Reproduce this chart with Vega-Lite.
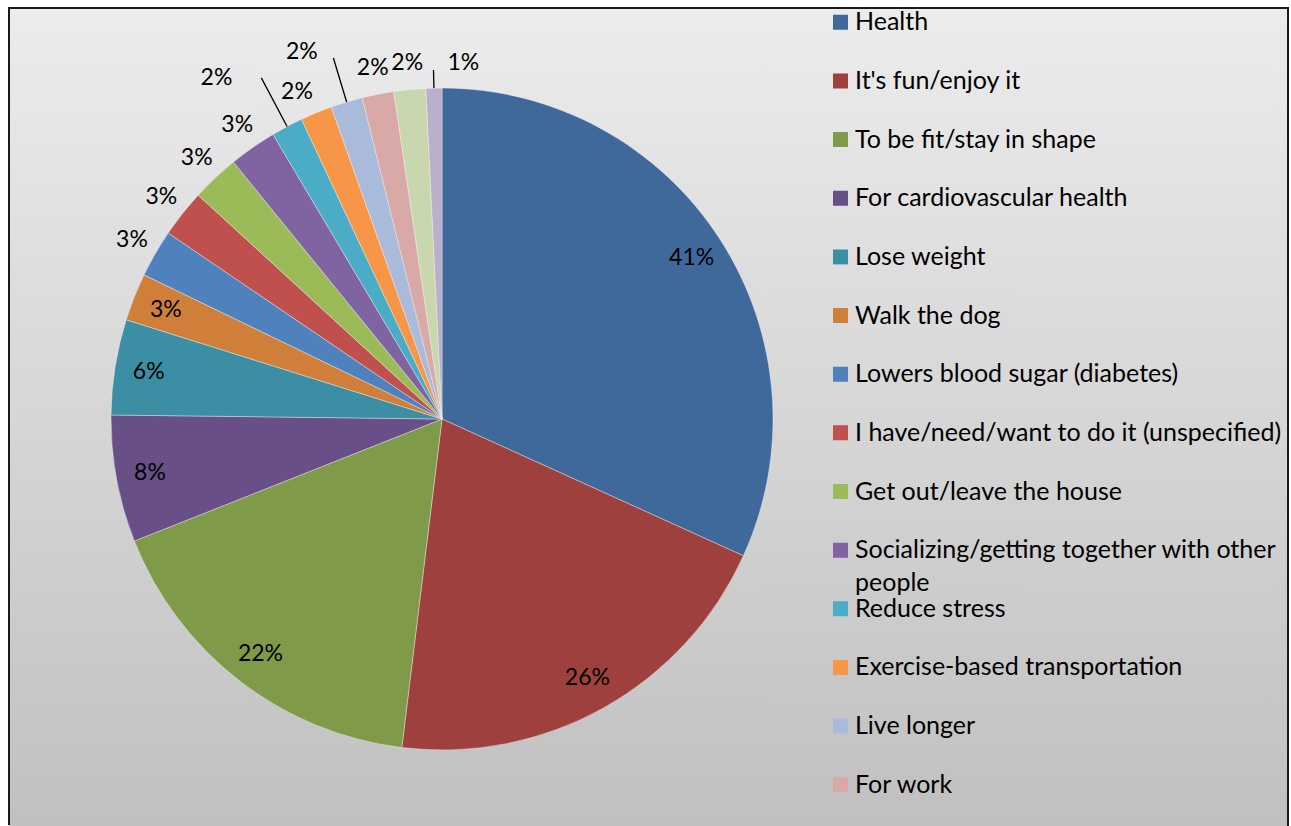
{
  "$schema": "https://vega.github.io/schema/vega-lite/v6.json",
  "width": 1279,
  "height": 818,
  "autosize": {"type": "none"},
  "padding": {"left": 9, "top": 8, "right": 3, "bottom": 0},
  "background": "#ffffff",
  "view": {
    "fill": {"gradient": "linear", "x1": 0, "y1": 0, "x2": 0, "y2": 1,
      "stops": [{"offset": 0, "color": "#ececec"}, {"offset": 1, "color": "#c0c0c0"}]},
    "stroke": "#1a1a1a",
    "strokeWidth": 2,
    "strokeDash": [2098, 1279, 830]
  },
  "config": {
    "style": {"guide-label": {"lineHeight": 33}}
  },
  "data": {
    "values": [
      {"category": "Health", "pct": 0.41},
      {"category": "It's fun/enjoy it", "pct": 0.26},
      {"category": "To be fit/stay in shape", "pct": 0.22},
      {"category": "For cardiovascular health", "pct": 0.08},
      {"category": "Lose weight", "pct": 0.06},
      {"category": "Walk the dog", "pct": 0.03},
      {"category": "Lowers blood sugar (diabetes)", "pct": 0.03},
      {"category": "I have/need/want to do it (unspecified)", "pct": 0.03},
      {"category": "Get out/leave the house", "pct": 0.03},
      {"category": "Socializing/getting together with other people", "pct": 0.03},
      {"category": "Reduce stress", "pct": 0.02},
      {"category": "Exercise-based transportation", "pct": 0.02},
      {"category": "Live longer", "pct": 0.02},
      {"category": "For work", "pct": 0.02},
      {"category": "Relaxation", "pct": 0.02},
      {"category": "Other", "pct": 0.01}
    ]
  },
  "transform": [{"window": [{"op": "row_number", "as": "idx"}]}],
  "layer": [
    {
      "mark": {"type": "arc", "outerRadius": 331, "x": 433, "y": 411, "stroke": "#f4f4f4", "strokeWidth": 0.4},
      "encoding": {
        "theta": {"field": "pct", "type": "quantitative", "stack": true},
        "order": {"field": "idx", "type": "quantitative"},
        "color": {
          "field": "category", "type": "nominal", "sort": null,
          "scale": {
            "domain": ["Health", "It's fun/enjoy it", "To be fit/stay in shape", "For cardiovascular health", "Lose weight", "Walk the dog", "Lowers blood sugar (diabetes)", "I have/need/want to do it (unspecified)", "Get out/leave the house", "Socializing/getting together with other people", "Reduce stress", "Exercise-based transportation", "Live longer", "For work", "Relaxation", "Other"],
            "range": ["#40699b", "#9e413e", "#7f9a48", "#694f87", "#3b8ea3", "#d07f3b", "#4f81bd", "#c0504d", "#9bbb59", "#8064a2", "#4bacc6", "#f79646", "#aabada", "#d9a9a8", "#c8d7ad", "#bab0cb"]
          },
          "legend": {
            "title": null,
            "orient": "none",
            "legendX": 819,
            "legendY": 2.3,
            "padding": 0,
            "symbolType": "square",
            "symbolSize": 225,
            "symbolStrokeWidth": 0,
            "symbolOpacity": 1,
            "labelFont": "Lato",
            "labelFontSize": 25,
            "labelColor": "#000000",
            "labelOffset": 2,
            "labelLimit": 0,
            "clipHeight": 24,
            "rowPadding": 0.65,
            "labelExpr": "datum.label == 'Socializing/getting together with other people' ? ['Socializing/getting together with other', 'people'] : [datum.label, ' ']"
          }
        }
      }
    },
    {
      "mark": {"type": "arc", "innerRadius": 331, "outerRadius": 386, "padAngle": 0.2, "x": 433, "y": 411, "filled": false, "stroke": "#000000", "strokeWidth": 1.3},
      "encoding": {
        "theta": {"field": "pct", "type": "quantitative", "stack": true},
        "order": {"field": "idx", "type": "quantitative"},
        "detail": {"field": "category", "type": "nominal"},
        "strokeOpacity": {"condition": {"test": "datum.idx == 11", "value": 1}, "value": 0}
      }
    },
    {
      "mark": {"type": "arc", "innerRadius": 331, "outerRadius": 377, "padAngle": 0.2, "x": 433, "y": 411, "filled": false, "stroke": "#000000", "strokeWidth": 1.3},
      "encoding": {
        "theta": {"field": "pct", "type": "quantitative", "stack": true},
        "order": {"field": "idx", "type": "quantitative"},
        "detail": {"field": "category", "type": "nominal"},
        "strokeOpacity": {"condition": {"test": "datum.idx == 13", "value": 1}, "value": 0}
      }
    },
    {
      "mark": {"type": "arc", "innerRadius": 331, "outerRadius": 349, "padAngle": 0.2, "x": 433, "y": 411, "filled": false, "stroke": "#000000", "strokeWidth": 1.3},
      "encoding": {
        "theta": {"field": "pct", "type": "quantitative", "stack": true},
        "order": {"field": "idx", "type": "quantitative"},
        "detail": {"field": "category", "type": "nominal"},
        "strokeOpacity": {"condition": {"test": "datum.idx == 16", "value": 1}, "value": 0}
      }
    },
    {
      "mark": {"type": "text", "radius": 297, "x": 433, "y": 411, "font": "Lato", "fontSize": 23, "color": "#000000"},
      "encoding": {
        "theta": {"field": "pct", "type": "quantitative", "stack": true},
        "order": {"field": "idx", "type": "quantitative"},
        "detail": {"field": "category", "type": "nominal"},
        "text": {"condition": {"test": "datum.idx <= 6", "field": "pct", "type": "quantitative", "format": ".0%"}, "value": ""}
      }
    },
    {
      "mark": {"type": "text", "radius": 358, "x": 433, "y": 411, "font": "Lato", "fontSize": 23, "color": "#000000"},
      "encoding": {
        "theta": {"field": "pct", "type": "quantitative", "stack": true},
        "order": {"field": "idx", "type": "quantitative"},
        "detail": {"field": "category", "type": "nominal"},
        "text": {"condition": {"test": "indexof([7, 8, 9, 10, 14, 15], datum.idx) >= 0", "field": "pct", "type": "quantitative", "format": ".0%"}, "value": ""}
      }
    },
    {
      "mark": {"type": "text", "radius": 358, "x": 433, "y": 411, "dx": -9, "dy": 4, "font": "Lato", "fontSize": 23, "color": "#000000"},
      "encoding": {
        "theta": {"field": "pct", "type": "quantitative", "stack": true},
        "order": {"field": "idx", "type": "quantitative"},
        "detail": {"field": "category", "type": "nominal"},
        "text": {"condition": {"test": "datum.idx == 12", "field": "pct", "type": "quantitative", "format": ".0%"}, "value": ""}
      }
    },
    {
      "mark": {"type": "text", "radius": 358, "x": 433, "y": 411, "dx": -58, "dy": -25, "font": "Lato", "fontSize": 23, "color": "#000000"},
      "encoding": {
        "theta": {"field": "pct", "type": "quantitative", "stack": true},
        "order": {"field": "idx", "type": "quantitative"},
        "detail": {"field": "category", "type": "nominal"},
        "text": {"condition": {"test": "datum.idx == 11", "field": "pct", "type": "quantitative", "format": ".0%"}, "value": ""}
      }
    },
    {
      "mark": {"type": "text", "radius": 358, "x": 433, "y": 411, "dx": -37, "dy": -24, "font": "Lato", "fontSize": 23, "color": "#000000"},
      "encoding": {
        "theta": {"field": "pct", "type": "quantitative", "stack": true},
        "order": {"field": "idx", "type": "quantitative"},
        "detail": {"field": "category", "type": "nominal"},
        "text": {"condition": {"test": "datum.idx == 13", "field": "pct", "type": "quantitative", "format": ".0%"}, "value": ""}
      }
    },
    {
      "mark": {"type": "text", "radius": 358, "x": 433, "y": 411, "dx": 30, "dy": 2, "font": "Lato", "fontSize": 23, "color": "#000000"},
      "encoding": {
        "theta": {"field": "pct", "type": "quantitative", "stack": true},
        "order": {"field": "idx", "type": "quantitative"},
        "detail": {"field": "category", "type": "nominal"},
        "text": {"condition": {"test": "datum.idx == 16", "field": "pct", "type": "quantitative", "format": ".0%"}, "value": ""}
      }
    }
  ]
}
